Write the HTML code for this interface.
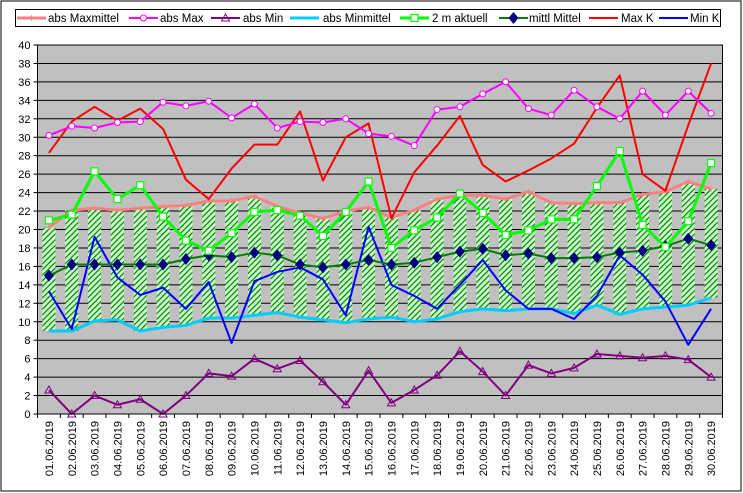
<!DOCTYPE html>
<html><head><meta charset="utf-8"><style>
body{margin:0;background:#fff;font-family:"Liberation Sans",Arial,sans-serif;}
svg{display:block}
</style></head><body>
<svg id="chart" width="743" height="493" xmlns="http://www.w3.org/2000/svg">
<defs>
<pattern id="hatch" patternUnits="userSpaceOnUse" width="4" height="4" patternTransform="rotate(45)">
<rect width="4" height="4" fill="#ccffcc"/><rect width="1.2" height="4" fill="#008000"/>
</pattern>
</defs>
<rect x="1" y="1" width="740" height="490" fill="#fff" stroke="#000" stroke-width="1"/>
<rect x="37.5" y="45" width="685" height="369" fill="#c0c0c0" stroke="#000" stroke-width="1"/>
<g id="grid"></g><g id="bars"></g><g id="lines"></g><g id="axes"></g>
<g id="legend"></g>
</svg>
<script>
const categories=[];for(let d=1;d<=30;d++)categories.push((d<10?'0':'')+d+'.06.2019');
const absMaxmittel=[20.2,22.1,22.3,22.1,22.3,22.5,22.6,23.1,23.1,23.6,22.5,21.8,21.2,22.0,22.4,21.3,22.1,23.3,23.7,23.7,23.3,24.1,22.9,22.8,22.9,22.9,23.8,24.1,25.2,24.4];
const absMax=[30.2,31.2,31.0,31.6,31.7,33.8,33.4,33.9,32.1,33.6,31.0,31.7,31.6,32.0,30.4,30.1,29.1,33.0,33.3,34.7,36.0,33.1,32.4,35.1,33.3,32.0,35.0,32.4,35.0,32.6];
const absMin=[2.6,0.0,2.0,1.0,1.6,0.0,2.0,4.4,4.1,6.0,4.9,5.8,3.5,1.0,4.7,1.2,2.6,4.2,6.8,4.6,2.0,5.3,4.4,5.0,6.5,6.3,6.1,6.3,5.9,4.0];
const absMinmittel=[9.0,9.0,10.1,10.2,9.0,9.4,9.6,10.4,10.4,10.7,11.0,10.5,10.2,9.9,10.3,10.5,10.0,10.3,11.1,11.4,11.2,11.4,11.4,10.9,11.8,10.8,11.4,11.6,11.8,12.6];
const aktuell2m=[21.0,21.6,26.3,23.3,24.8,21.4,18.8,17.7,19.6,21.9,22.1,21.5,19.3,21.9,25.2,18.0,19.9,21.3,23.9,21.8,19.4,19.9,21.1,21.1,24.7,28.5,20.5,18.1,20.9,27.2];
const mittlMittel=[15.0,16.2,16.2,16.2,16.2,16.2,16.8,17.2,17.0,17.5,17.2,16.2,15.9,16.2,16.7,16.2,16.4,17.0,17.6,17.9,17.2,17.4,16.9,16.9,17.0,17.5,17.7,18.2,19.0,18.3];
const maxK=[28.3,31.7,33.3,31.8,33.1,30.9,25.4,23.3,26.6,29.2,29.2,32.8,25.3,30.0,31.5,21.2,26.2,29.1,32.3,27.0,25.2,26.4,27.7,29.3,33.2,36.7,26.0,24.2,31.3,38.0];
const minK=[13.3,9.2,19.2,14.8,12.9,13.7,11.4,14.3,7.7,14.4,15.4,15.9,14.6,10.7,20.3,14.0,12.8,11.4,14.0,16.7,13.4,11.4,11.4,10.3,12.8,17.2,15.1,12.2,7.5,11.4];
const yTicks=[0,2,4,6,8,10,12,14,16,18,20,22,24,26,28,30,32,34,36,38,40];

const NS='http://www.w3.org/2000/svg';
const X0=37.5,X1=722.5,Y0=414,Y1=45,YMAX=40;
const band=(X1-X0)/categories.length;
const xs=i=>X0+band*(i+0.5);
const ys=v=>Y0-(v/YMAX)*(Y0-Y1);
function mk(tag,attrs,parent){const e=document.createElementNS(NS,tag);for(const k in attrs)e.setAttribute(k,attrs[k]);parent.appendChild(e);return e;}
const grid=document.getElementById('grid'),bars=document.getElementById('bars'),lines=document.getElementById('lines'),axes=document.getElementById('axes'),legend=document.getElementById('legend');

yTicks.forEach(t=>{
  if(t>0&&t<YMAX){const l=mk('line',{x1:X0,x2:X1,y1:ys(t),y2:ys(t),stroke:'#000','stroke-width':1},grid);
  
  }
  const tk=mk('line',{x1:X0-4,x2:X0,y1:ys(t),y2:ys(t),stroke:'#000'},axes);
  
  
  const tx=mk('text',{x:X0-7,y:ys(t)+4,'text-anchor':'end','font-size':11},axes);tx.textContent=t;
  
  
});
mk('line',{x1:X0,x2:X0,y1:Y1,y2:Y0,stroke:'#000'},axes);
mk('line',{x1:X0,x2:X1,y1:Y0,y2:Y0,stroke:'#000'},axes);
categories.forEach((c,i)=>{
  const xb=X0+band*i;
  const tk=mk('line',{x1:xb,x2:xb,y1:Y0,y2:Y0+4,stroke:'#000'},axes);
  
  
  const tx=mk('text',{x:0,y:0,'text-anchor':'end','font-size':11,transform:`translate(${xs(i)+4},${Y0+7}) rotate(-90)`},axes);tx.textContent=c;
  
  
  const lo=absMinmittel[i],hi=absMaxmittel[i];
  const b=mk('rect',{x:xs(i)-6.5,y:ys(hi),width:13,height:ys(lo)-ys(hi),fill:'url(#hatch)'},bars);
  
  
});
mk('line',{x1:X1,x2:X1,y1:Y0,y2:Y0+4,stroke:'#000'},axes);

function series(arr,color,w,name,marker){
  const g=mk('g',{},lines);
  
  
  mk('polyline',{points:arr.map((v,i)=>xs(i)+','+ys(v)).join(' '),fill:'none',stroke:color,'stroke-width':w,'stroke-linejoin':'round'},g);
  arr.forEach((v,i)=>{const m=drawMarker(marker,xs(i),ys(v),g);if(m){
    
    }});
}
function drawMarker(type,x,y,g){
  if(type==='circle')return mk('circle',{cx:x,cy:y,r:3,fill:'#fff',stroke:'#ff00ff','stroke-width':1},g);
  if(type==='square')return mk('rect',{x:x-3.5,y:y-3.5,width:7,height:7,fill:'#fff',stroke:'#00ff00','stroke-width':1.2},g);
  if(type==='diamond')return mk('polygon',{points:`${x},${y-6} ${x+5},${y} ${x},${y+6} ${x-5},${y}`,fill:'#000080'},g);
  if(type==='tri')return mk('polygon',{points:`${x},${y-4} ${x+4},${y+3} ${x-4},${y+3}`,fill:'none',stroke:'#800080'},g);
  if(type==='plus')return mk('path',{d:`M${x-3},${y}H${x+3}M${x},${y-3}V${y+3}`,stroke:'#ff8080','stroke-width':0.8},g);
  return null;
}
series(absMaxmittel,'#ff8080',3,'abs-maxmittel','plus');
series(absMinmittel,'#00ccff',3,'abs-minmittel',null);
series(absMin,'#800080',2,'abs-min','tri');
series(maxK,'#ff0000',2,'max-k',null);
series(minK,'#0000ff',2,'min-k',null);
series(mittlMittel,'#008000',2,'mittl-mittel','diamond');
series(aktuell2m,'#00ff00',3,'2m-aktuell','square');
series(absMax,'#ff00ff',2,'abs-max','circle');

const lb=mk('rect',{x:15.5,y:9.5,width:705,height:17,fill:'#fff',stroke:'#000'},legend);


const legItems=[['abs Maxmittel','#ff8080',3,'plus',17,48],['abs Max','#ff00ff',2,'circle',129,160],['abs Min','#800080',2,'tri',211,243],['abs Minmittel','#00ccff',3,null,290,323],['2 m aktuell','#00ff00',3,'square',400,432],['mittl Mittel','#008000',2,'diamond',499,529],['Max K','#ff0000',2,null,589,621],['Min K','#0000ff',2,null,659,690]];
legItems.forEach(([label,col,w,mkType,lx,tx])=>{
  const g=mk('g',{},legend);
  
  
  mk('line',{x1:lx,x2:lx+29,y1:18,y2:18,stroke:col,'stroke-width':w},g);
  if(mkType)drawMarker(mkType,lx+14.5,18,g);
  const t=mk('text',{x:tx,y:22,'font-size':11.5},g);t.textContent=label;
});
</script>
</body></html>
